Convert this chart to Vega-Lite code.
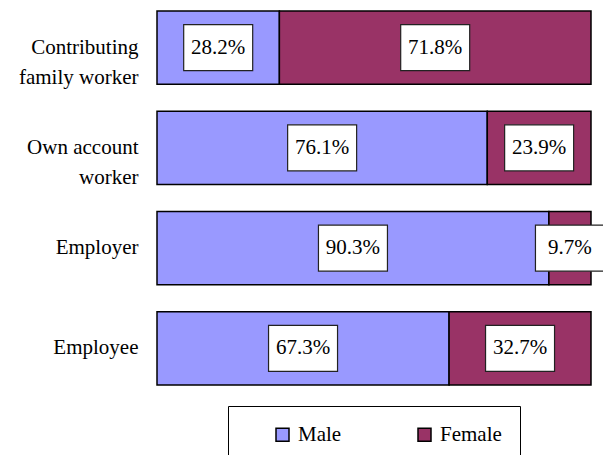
{
  "$schema": "https://vega.github.io/schema/vega-lite/v6.json",
  "autosize": {"type": "none"},
  "width": 434,
  "height": 374,
  "padding": {"left": 157, "top": 11, "right": 12, "bottom": 70},
  "background": "white",
  "config": {"view": {"stroke": null}, "font": "Liberation Serif"},
  "data": {
    "values": [
      {"category": "Contributing family worker", "sex": "Male", "pct": 28.2},
      {"category": "Contributing family worker", "sex": "Female", "pct": 71.8},
      {"category": "Own account worker", "sex": "Male", "pct": 76.1},
      {"category": "Own account worker", "sex": "Female", "pct": 23.9},
      {"category": "Employer", "sex": "Male", "pct": 90.3},
      {"category": "Employer", "sex": "Female", "pct": 9.7},
      {"category": "Employee", "sex": "Male", "pct": 67.3},
      {"category": "Employee", "sex": "Female", "pct": 32.7}
    ]
  },
  "transform": [
    {"stack": "pct", "groupby": ["category"], "sort": [{"field": "sex", "order": "descending"}], "as": ["x0", "x1"]},
    {"calculate": "(datum.x0 + datum.x1) / 2", "as": "mid"},
    {"calculate": "format(datum.pct, '.1f') + '%'", "as": "label"}
  ],
  "encoding": {
    "y": {
      "field": "category",
      "type": "nominal",
      "sort": ["Contributing family worker", "Own account worker", "Employer", "Employee"],
      "scale": {"paddingInner": 0.27, "paddingOuter": 0},
      "axis": {
        "title": null,
        "domain": false,
        "ticks": false,
        "labelFont": "Times New Roman, Liberation Serif, DejaVu Serif, serif",
        "labelFontSize": 21,
        "labelColor": "black",
        "labelLineHeight": 30,
        "labelLimit": 0,
        "labelPadding": 19,
        "labelAlign": "right",
        "labelExpr": "datum.value == 'Contributing family worker' ? ['Contributing', 'family worker'] : datum.value == 'Own account worker' ? ['Own account', 'worker\u00a0\u00a0\u00a0\u00a0\u00a0'] : datum.value"
      }
    }
  },
  "layer": [
    {
      "mark": {"type": "bar", "stroke": "black", "strokeWidth": 1.5},
      "encoding": {
        "x": {"field": "x0", "type": "quantitative", "scale": {"domain": [0, 100]}, "axis": null},
        "x2": {"field": "x1"},
        "color": {
          "field": "sex",
          "type": "nominal",
          "scale": {"domain": ["Male", "Female"], "range": ["#9999FF", "#993366"]},
          "legend": {
            "title": null,
            "orient": "none",
            "legendX": 71,
            "legendY": 395,
            "direction": "horizontal",
            "columns": 2,
            "gridAlign": "all",
            "columnPadding": 28,
            "symbolType": "square",
            "symbolSize": 169,
            "symbolStrokeColor": "black",
            "symbolStrokeWidth": 1.5,
            "symbolOffset": 26,
            "labelFont": "Times New Roman, Liberation Serif, DejaVu Serif, serif",
            "labelFontSize": 21,
            "labelColor": "black",
            "labelOffset": 5,
            "padding": 18,
            "strokeColor": "black",
            "fillColor": "white"
          }
        }
      }
    },
    {
      "mark": {"type": "point", "shape": "M-1,-0.667H1V0.667H-1Z", "size": 4761, "filled": true, "fill": "white", "stroke": "#222222", "strokeWidth": 1.2, "opacity": 0.999},
      "encoding": {
        "x": {"field": "mid", "type": "quantitative", "scale": {"domain": [0, 100]}}
      }
    },
    {
      "mark": {"type": "text", "font": "Times New Roman, Liberation Serif, DejaVu Serif, serif", "fontSize": 21, "color": "black", "baseline": "middle", "align": "center"},
      "encoding": {
        "x": {"field": "mid", "type": "quantitative", "scale": {"domain": [0, 100]}},
        "text": {"field": "label", "type": "nominal"}
      }
    }
  ]
}
